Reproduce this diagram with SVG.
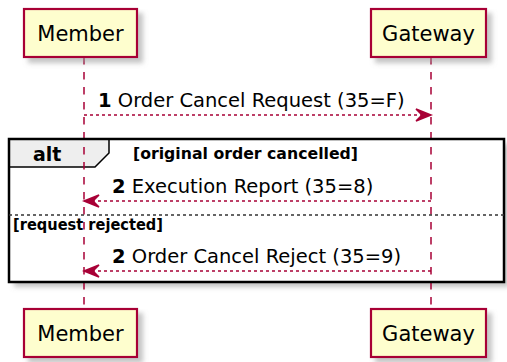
<svg xmlns="http://www.w3.org/2000/svg" width="507" height="362" viewBox="0 0 507 362">
<defs>
<filter id="sh" x="-10%" y="-10%" width="130%" height="140%">
<feGaussianBlur in="SourceAlpha" stdDeviation="2.5"/>
<feColorMatrix type="matrix" values="0 0 0 0 0.3  0 0 0 0 0.3  0 0 0 0 0.3  0 0 0 0.55 0"/>
<feOffset dx="5" dy="5" result="s"/>
<feMerge><feMergeNode in="s"/><feMergeNode in="SourceGraphic"/></feMerge>
</filter>
<style>
.box{fill:#FEFECE;stroke:#A80036;stroke-width:2.2;filter:url(#sh)}
.pt{font-family:"DejaVu Sans",sans-serif;font-size:21px;fill:#000;text-anchor:middle}
.life{stroke:#A80036;stroke-width:1.5;stroke-dasharray:7.5,7.5;fill:none}
.msg{stroke:#A80036;stroke-width:1.5;stroke-dasharray:3,3;fill:none}
.head{fill:#A80036;stroke:#A80036;stroke-width:1.5}
.mt{font-family:"DejaVu Sans",sans-serif;font-size:19.5px;fill:#000}
.b{font-weight:bold}
.gt{font-family:"DejaVu Sans",sans-serif;font-size:15.5px;font-weight:bold;fill:#000}
</style>
</defs>
<rect width="507" height="362" fill="#fff"/>
<g id="alt-frame-bg">
<rect x="9" y="139" width="495" height="143" fill="#fff" filter="url(#sh)"/>
<polygon points="9,139 109,139 109,153 95,167 9,167" fill="#EEEEEE" stroke="#000" stroke-width="1.5"/>
</g>
<g id="lifelines">
<line class="life" x1="84" y1="57" x2="84" y2="309"/>
<line class="life" x1="431" y1="57" x2="431" y2="309"/>
</g>
<g id="alt-frame">
<rect x="9" y="139" width="495" height="143" fill="none" stroke="#000" stroke-width="2.5"/>
<line x1="9" y1="215" x2="504" y2="215" stroke="#333" stroke-width="1.3" stroke-dasharray="3,3"/>
<text x="33" y="161" font-family="DejaVu Sans, sans-serif" font-size="19" font-weight="bold">alt</text>
<text class="gt" x="133" y="159" textLength="225" lengthAdjust="spacingAndGlyphs">[original order cancelled]</text>
<text class="gt" x="13" y="230" textLength="150" lengthAdjust="spacingAndGlyphs">[request rejected]</text>
</g>
<g id="connectors">
<line class="msg" x1="84" y1="115" x2="429" y2="115"/>
<polygon class="head" points="416,109 431,115 416,121 422,115"/>
<text class="mt" x="98" y="107"><tspan class="b">1</tspan> Order Cancel Request (35=F)</text>
<line class="msg" x1="86" y1="201" x2="431" y2="201"/>
<polygon class="head" points="99,195 84,201 99,207 93,201"/>
<text class="mt" x="112" y="193"><tspan class="b">2</tspan> Execution Report (35=8)</text>
<line class="msg" x1="86" y1="271" x2="431" y2="271"/>
<polygon class="head" points="99,265 84,271 99,277 93,271"/>
<text class="mt" x="112" y="263"><tspan class="b">2</tspan> Order Cancel Reject (35=9)</text>
</g>
<g id="member">
<rect class="box" x="24" y="9" width="113" height="48"/>
<text class="pt" x="80.5" y="41">Member</text>
<rect class="box" x="24" y="309" width="113" height="48"/>
<text class="pt" x="80.5" y="341">Member</text>
</g>
<g id="gateway">
<rect class="box" x="371" y="9" width="115" height="48"/>
<text class="pt" x="428.5" y="41">Gateway</text>
<rect class="box" x="371" y="309" width="115" height="48"/>
<text class="pt" x="428.5" y="341">Gateway</text>
</g>
</svg>
